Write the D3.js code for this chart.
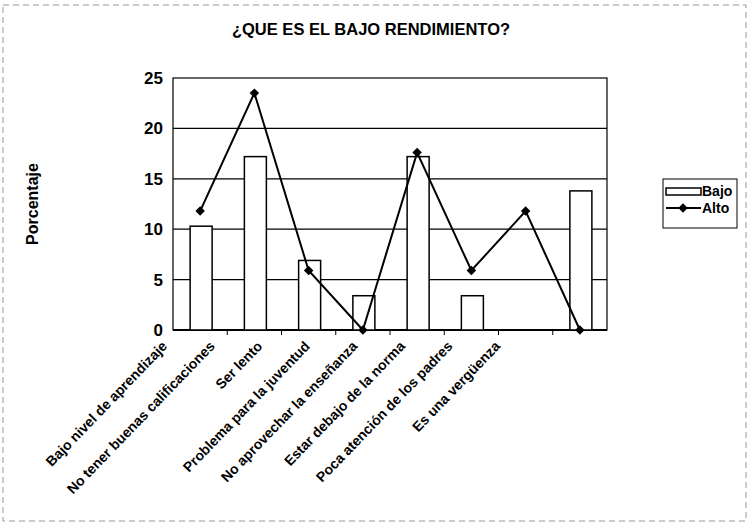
<!DOCTYPE html>
<html>
<head>
<meta charset="utf-8">
<script src="https://cdn.jsdelivr.net/npm/d3@7"></script>
<style>
  body { margin: 0; background: #fff; }
  text { font-family: "Liberation Sans", Arial, sans-serif; font-weight: bold; fill: #000; }
</style>
</head>
<body>
<script>
const categories = [
  "Bajo nivel de aprendizaje",
  "No tener buenas calificaciones",
  "Ser lento",
  "Problema para la juventud",
  "No aprovechar la enseñanza",
  "Estar debajo de la norma",
  "Poca atención de los padres",
  "Es una vergüenza"
];
const bajo = [10.3, 17.2, 6.9, 3.4, 17.2, 3.4, 0, 13.8];
const alto = [11.8, 23.5, 5.9, 0, 17.6, 5.9, 11.8, 0];
const yTicks = [0, 5, 10, 15, 20, 25];
const seriesNames = ["Bajo", "Alto"];

const W = 748, H = 523;
const plot = { left: 173, right: 607, top: 78, bottom: 330 };

const svg = d3.select("body").append("svg")
  .attr("width", W)
  .attr("height", H);

// outer frame (scanned, faint dashed)
svg.append("rect")
  .attr("x", 3).attr("y", 5)
  .attr("width", 743).attr("height", 516)
  .attr("fill", "none")
  .attr("stroke", "#999")
  .attr("stroke-dasharray", "6,4");

const x = d3.scaleBand()
  .domain(categories)
  .range([plot.left, plot.right]);

const y = d3.scaleLinear()
  .domain([0, 25])
  .range([plot.bottom, plot.top]);

// labels in the picture sit a bit tighter than the bands
const xLab = d3.scalePoint()
  .domain(categories)
  .range([168, 501]);

// gridlines
svg.append("g")
  .selectAll("line")
  .data(yTicks.filter(d => d > 0 && d < 25))
  .enter()
  .append("line")
  .attr("x1", plot.left)
  .attr("x2", plot.right)
  .attr("y1", d => y(d))
  .attr("y2", d => y(d))
  .attr("stroke", "#000")
  .attr("stroke-width", 1.2);

// plot frame
svg.append("rect")
  .attr("x", plot.left)
  .attr("y", plot.top)
  .attr("width", plot.right - plot.left)
  .attr("height", plot.bottom - plot.top)
  .attr("fill", "none")
  .attr("stroke", "#000")
  .attr("stroke-width", 1.2);

// y axis
const yAxis = svg.append("g")
  .attr("transform", `translate(${plot.left},0)`)
  .call(d3.axisLeft(y).tickValues(yTicks).tickSize(0).tickPadding(10));
yAxis.select(".domain").remove();
yAxis.selectAll("text")
  .style("font-size", "17px")
  .style("font-family", "Liberation Sans, Arial, sans-serif")
  .style("font-weight", "bold");

// x axis ticks at band boundaries
svg.append("g")
  .selectAll("line")
  .data(categories.slice(1))
  .enter()
  .append("line")
  .attr("x1", d => x(d))
  .attr("x2", d => x(d))
  .attr("y1", plot.bottom)
  .attr("y2", plot.bottom + 5)
  .attr("stroke", "#000");

svg.append("line")
  .attr("x1", plot.left)
  .attr("x2", plot.right)
  .attr("y1", plot.bottom)
  .attr("y2", plot.bottom)
  .attr("stroke", "#000")
  .attr("stroke-width", 2);

// bars
const barW = 22;
svg.append("g")
  .selectAll("rect")
  .data(bajo)
  .enter()
  .append("rect")
  .attr("x", (d, i) => x(categories[i]) + x.bandwidth() / 2 - barW / 2 + 1)
  .attr("y", d => y(d))
  .attr("width", barW)
  .attr("height", d => y(0) - y(d))
  .attr("fill", "#fff")
  .attr("stroke", "#000")
  .attr("stroke-width", 1.5)
  .style("display", d => d > 0 ? null : "none");

// line
const cx = (d, i) => x(categories[i]) + x.bandwidth() / 2;
const line = d3.line()
  .x(cx)
  .y(d => y(d));

svg.append("path")
  .datum(alto)
  .attr("d", line)
  .attr("fill", "none")
  .attr("stroke", "#000")
  .attr("stroke-width", 2);

const diamond = d3.symbol().type(d3.symbolSquare).size(45);
svg.append("g")
  .selectAll("path")
  .data(alto)
  .enter()
  .append("path")
  .attr("d", diamond)
  .attr("transform", (d, i) => `translate(${cx(d, i)},${y(d)}) rotate(45)`)
  .attr("fill", "#000");

// x labels
svg.append("g")
  .selectAll("text")
  .data(categories)
  .enter()
  .append("text")
  .attr("transform", d => `translate(${xLab(d)},${plot.bottom + 17}) rotate(-46)`)
  .attr("text-anchor", "end")
  .style("font-size", "14px")
  .text(d => d);

// title
svg.append("text")
  .attr("x", 371)
  .attr("y", 35)
  .attr("text-anchor", "middle")
  .style("font-size", "16.5px")
  .text("¿QUE ES EL BAJO RENDIMIENTO?");

// y title
svg.append("text")
  .attr("transform", "translate(38,204) rotate(-90)")
  .attr("text-anchor", "middle")
  .style("font-size", "16px")
  .text("Porcentaje");

// legend
const lg = svg.append("g").attr("transform", "translate(663,179)");
lg.append("rect")
  .attr("width", 74).attr("height", 49)
  .attr("fill", "#fff")
  .attr("stroke", "#000")
  .attr("stroke-width", 1);
lg.append("rect")
  .attr("x", 3).attr("y", 9)
  .attr("width", 35).attr("height", 7)
  .attr("fill", "#fff")
  .attr("stroke", "#000")
  .attr("stroke-width", 1.5);
lg.append("line")
  .attr("x1", 3).attr("x2", 38)
  .attr("y1", 29).attr("y2", 29)
  .attr("stroke", "#000")
  .attr("stroke-width", 2);
lg.append("path")
  .attr("d", diamond)
  .attr("transform", "translate(20,29) rotate(45)");
lg.selectAll("text.leg")
  .data(seriesNames)
  .enter()
  .append("text")
  .attr("class", "leg")
  .attr("x", 39)
  .attr("y", (d, i) => 17 + i * 17)
  .style("font-size", "14px")
  .text(d => d);
</script>
</body>
</html>
